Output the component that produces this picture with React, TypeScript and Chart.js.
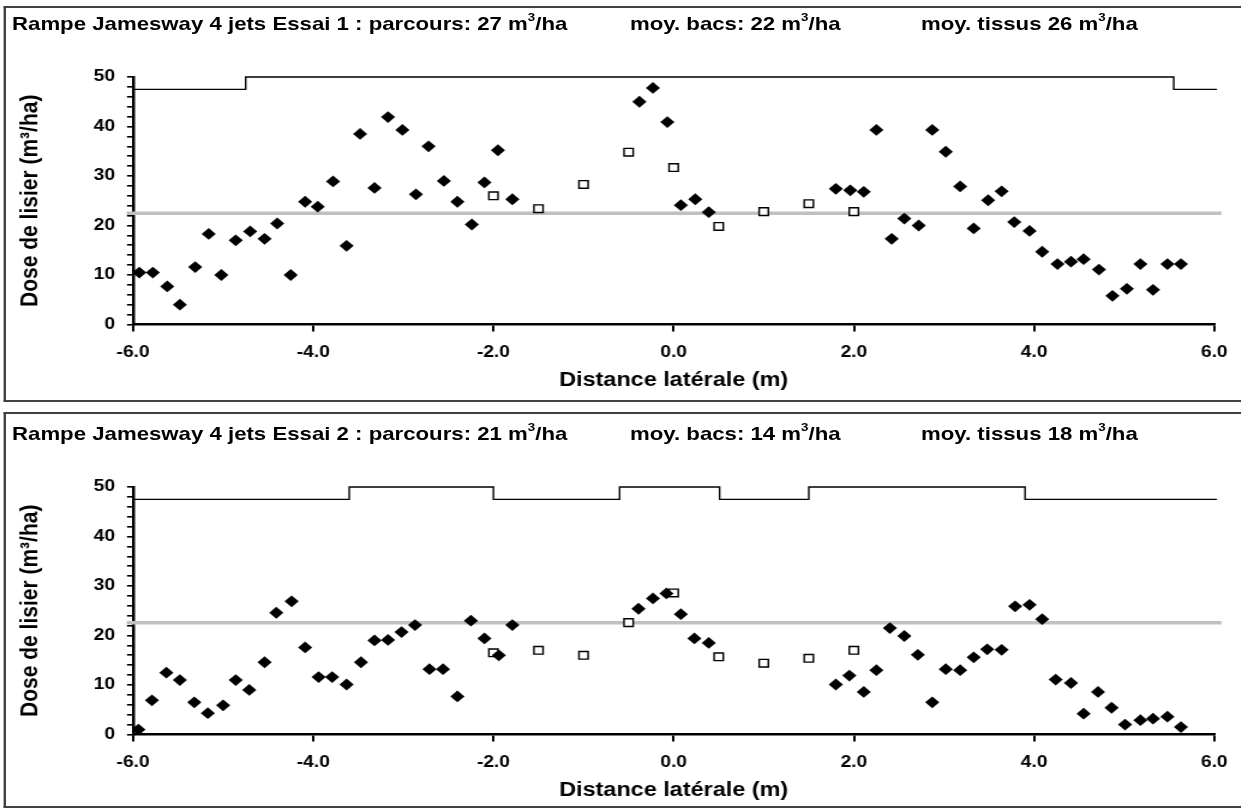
import React, { useEffect, useRef } from "react";
import { Chart, registerables } from "chart.js";

Chart.register(...registerables);

// ---------- DATA ----------
const xTickValues = [-6, -4, -2, 0, 2, 4, 6];
const yLabelledTicks = [0, 10, 20, 30, 40, 50];

const titles1 = ["Rampe Jamesway 4 jets Essai 1 : parcours: 27 ", "moy. bacs: 22 ", "moy. tissus 26 "];
const titles2 = ["Rampe Jamesway 4 jets Essai 2 : parcours: 21 ", "moy. bacs: 14 ", "moy. tissus 18 "];

// Essai 1 – tissus (filled diamonds)
const tissusX1 = [-5.93, -5.78, -5.62, -5.48, -5.31, -5.16, -5.02, -4.86, -4.7, -4.54, -4.4, -4.25, -4.09, -3.95, -3.78, -3.63, -3.48, -3.32, -3.17, -3.01, -2.86, -2.72, -2.55, -2.4, -2.24, -2.1, -1.95, -1.79, -0.38, -0.23, -0.07, 0.08, 0.24, 0.39, 1.8, 1.96, 2.11, 2.25, 2.42, 2.56, 2.72, 2.87, 3.02, 3.18, 3.33, 3.49, 3.64, 3.78, 3.95, 4.09, 4.26, 4.41, 4.55, 4.72, 4.87, 5.03, 5.18, 5.32, 5.48, 5.63];
const tissusY1 = [10.5, 10.5, 7.7, 4.0, 11.6, 18.3, 10.0, 17.0, 18.8, 17.3, 20.4, 10.0, 24.8, 23.8, 28.9, 15.9, 38.5, 27.6, 41.9, 39.3, 26.3, 36.0, 29.0, 24.8, 20.2, 28.7, 35.2, 25.3, 45.0, 47.8, 40.9, 24.1, 25.3, 22.7, 27.4, 27.1, 26.8, 39.3, 17.3, 21.4, 20.0, 39.3, 34.9, 27.9, 19.4, 25.1, 26.9, 20.7, 18.9, 14.7, 12.2, 12.7, 13.2, 11.1, 5.8, 7.2, 12.2, 7.0, 12.2, 12.2];

// Essai 2 – tissus
const tissusX2 = [-5.94, -5.79, -5.63, -5.48, -5.32, -5.17, -5.0, -4.86, -4.71, -4.54, -4.41, -4.24, -4.09, -3.94, -3.79, -3.63, -3.47, -3.32, -3.17, -3.02, -2.87, -2.71, -2.56, -2.4, -2.25, -2.1, -1.94, -1.79, -0.39, -0.23, -0.08, 0.08, 0.23, 0.39, 1.8, 1.95, 2.11, 2.25, 2.4, 2.56, 2.71, 2.87, 3.02, 3.18, 3.33, 3.48, 3.64, 3.79, 3.95, 4.09, 4.24, 4.41, 4.55, 4.71, 4.86, 5.01, 5.18, 5.32, 5.48, 5.63];
const tissusY2 = [1.0, 6.9, 12.5, 11.0, 6.5, 4.3, 5.9, 11.0, 9.0, 14.6, 24.6, 26.9, 17.6, 11.6, 11.6, 10.1, 14.6, 19.0, 19.1, 20.7, 22.1, 13.2, 13.2, 7.7, 23.0, 19.4, 16.0, 22.1, 25.4, 27.5, 28.5, 24.3, 19.4, 18.5, 10.1, 11.9, 8.6, 13.0, 21.5, 19.9, 16.1, 6.5, 13.2, 13.0, 15.6, 17.2, 17.1, 25.9, 26.2, 23.3, 11.1, 10.4, 4.2, 8.6, 5.4, 2.0, 2.9, 3.2, 3.6, 1.5];

// Bacs (open squares)
const bacsX = [-2, -1.5, -1, -0.5, 0, 0.5, 1, 1.5, 2];
const bacsY1 = [26.0, 23.4, 28.3, 34.8, 31.7, 19.8, 22.8, 24.4, 22.8];
const bacsY2 = [16.5, 17.0, 16.0, 22.6, 28.6, 15.7, 14.4, 15.4, 17.0];

// Parcours (step outline along top)
const parcoursX1 = [-6, -4.75, -4.75, 5.55, 5.55, 6.03];
const parcoursY1 = [47.5, 47.5, 50, 50, 47.5, 47.5];
const parcoursX2 = [-6, -3.6, -3.6, -2.0, -2.0, -0.6, -0.6, 0.51, 0.51, 1.5, 1.5, 3.9, 3.9, 6.03];
const parcoursY2 = [47.5, 47.5, 50, 50, 47.5, 47.5, 50, 50, 47.5, 47.5, 50, 50, 47.5, 47.5];

// Mean line (grey)
const moyenneX = [-6.07, 6.08];
const moyenne1 = 22.5;
const moyenne2 = 22.6;

// ---------- LAYOUT ----------
const S = 1.2; // horizontal stretch of the original picture
const PAGE_W = 1241;
const CW = Math.round(PAGE_W / S);
const CH = 401;
const FONT = "'Liberation Sans', Arial, sans-serif";
const ix = (pageX: number) => pageX / S;

function makeConfig(tx: number[], ty: number[], by: number[], px: number[], py: number[], mean: number): any {
  const pts = (xs: number[], ys: number[]) => xs.map((x, i) => ({ x, y: ys[i] }));
  return {
    type: "scatter",
    data: {
      datasets: [
        {
          label: "tissus",
          data: pts(tx, ty),
          pointStyle: "rectRot",
          pointRadius: 5.9,
          backgroundColor: "#000",
          borderColor: "#000",
          borderWidth: 0,
          showLine: false,
        },
        {
          label: "bacs",
          data: pts(bacsX, by),
          pointStyle: "rect",
          pointRadius: 5.4,
          backgroundColor: "#fff",
          borderColor: "#000",
          borderWidth: 1.4,
          showLine: false,
        },
        {
          label: "parcours",
          data: pts(px, py),
          showLine: true,
          pointRadius: 0,
          borderColor: "#000",
          borderWidth: 1.4,
          clip: false,
        },
        {
          label: "moyenne",
          data: moyenneX.map((x) => ({ x, y: mean })),
          showLine: true,
          pointRadius: 0,
          borderColor: "#c0c0c0",
          borderWidth: 3.5,
          clip: false,
        },
      ],
    },
    options: {
      responsive: false,
      devicePixelRatio: 1,
      animation: false,
      events: [],
      layout: { padding: { top: 77, left: 0, right: CW - ix(1221.7), bottom: 0 } },
      plugins: { legend: { display: false }, tooltip: { enabled: false }, title: { display: false } },
      scales: {
        x: {
          type: "linear",
          min: -6,
          max: 6,
          afterFit: (s: any) => {
            s.height = CH - 324.5;
          },
          afterBuildTicks: (s: any) => {
            s.ticks = xTickValues.map((v) => ({ value: v }));
          },
          ticks: {
            color: "#000",
            font: { family: FONT, size: 16, weight: "bold" },
            padding: 11,
            maxRotation: 0,
            autoSkip: false,
            callback: (v: any) => Number(v).toFixed(1),
          },
          grid: { drawOnChartArea: false, drawTicks: true, tickLength: 7, color: "#000", lineWidth: 2 },
          border: { display: true, color: "#000", width: 2.5 },
          title: {
            display: true,
            text: "Distance latérale (m)",
            color: "#000",
            font: { family: FONT, size: 19.5, weight: "bold" },
            padding: { top: 0, bottom: 9 },
          },
        },
        y: {
          type: "linear",
          min: 0,
          max: 50,
          afterFit: (s: any) => {
            s.width = ix(133);
          },
          afterBuildTicks: (s: any) => {
            const t: any[] = [];
            for (let v = 0; v <= 50; v += 2) t.push({ value: v });
            s.ticks = t;
          },
          ticks: {
            color: "#000",
            font: { family: FONT, size: 16, weight: "bold" },
            padding: ix(12),
            autoSkip: false,
            callback: (v: any) => (yLabelledTicks.includes(Number(v)) ? String(v) : ""),
          },
          grid: { drawOnChartArea: false, drawTicks: true, tickLength: ix(6), color: "#000", lineWidth: 1.6 },
          border: { display: true, color: "#000", width: 2.5 },
          title: {
            display: true,
            text: "Dose de lisier (m³/ha)",
            color: "#000",
            font: { family: FONT, size: 21, weight: "bold" },
            padding: { top: ix(30) - 12.6, bottom: 0 },
          },
        },
      },
    },
  };
}

function ChartCanvas({ top, cfg }: { top: number; cfg: any }) {
  const ref = useRef<HTMLCanvasElement | null>(null);
  useEffect(() => {
    if (!ref.current) return;
    const chart = new Chart(ref.current, cfg);
    return () => chart.destroy();
  }, []);
  return (
    <canvas
      ref={ref}
      width={CW}
      height={CH}
      style={{ position: "absolute", left: 0, top, width: CW + "px", height: CH + "px" }}
    />
  );
}

function Title({ top, parts }: { top: number; parts: string[] }) {
  const lefts = [ix(12), ix(630), ix(921)];
  return (
    <>
      {parts.map((p, i) => (
        <span
          key={i}
          style={{
            position: "absolute",
            left: lefts[i],
            top,
            font: `bold 18.5px ${FONT}`,
            lineHeight: "22px",
            whiteSpace: "pre",
            color: "#000",
          }}
        >
          {p}m<sup style={{ fontSize: "0.6em", lineHeight: 0, verticalAlign: "0.8em" }}>3</sup>/ha
        </span>
      ))}
    </>
  );
}

function Panel({ top, height }: { top: number; height: number }) {
  return (
    <div
      style={{
        position: "absolute",
        left: ix(4),
        top,
        width: CW + 20,
        height,
        borderTop: "2px solid #404040",
        borderLeft: "2px solid #404040",
        borderBottom: "2px solid #404040",
        boxSizing: "border-box",
      }}
    />
  );
}

export default function App() {
  const cfg1 = makeConfig(tissusX1, tissusY1, bacsY1, parcoursX1, parcoursY1, moyenne1);
  const cfg2 = makeConfig(tissusX2, tissusY2, bacsY2, parcoursX2, parcoursY2, moyenne2);
  return (
    <div style={{ position: "fixed", left: 0, top: 0, width: PAGE_W, height: 811, overflow: "hidden", background: "#fff" }}>
      <div style={{ position: "absolute", left: 0, top: 0, width: CW, height: 811, transform: `scaleX(${S})`, transformOrigin: "0 0" }}>
        <Panel top={6} height={396} />
        <Panel top={412} height={396} />
        <ChartCanvas top={0} cfg={cfg1} />
        <ChartCanvas top={410} cfg={cfg2} />
        <Title top={13} parts={titles1} />
        <Title top={423} parts={titles2} />
      </div>
    </div>
  );
}
